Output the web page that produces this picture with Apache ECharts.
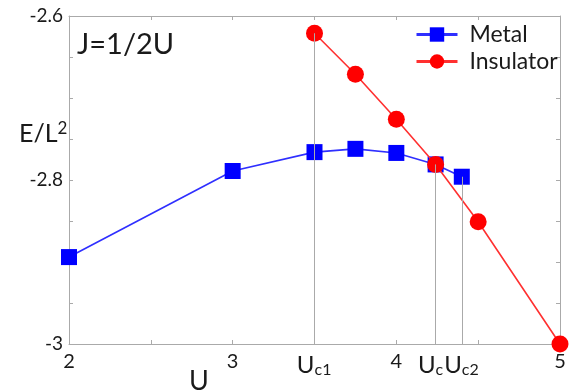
<!DOCTYPE html>
<html>
<head>
<meta charset="utf-8">
<script src="https://cdn.jsdelivr.net/npm/echarts@6/dist/echarts.min.js"></script>
<style>
  html, body { margin: 0; padding: 0; background: #fff; }
  #chart { width: 573px; height: 391px; }
  #dbg { position: absolute; left: 80px; top: 200px; font: 11px monospace; color: #080; white-space: pre; }
</style>
</head>
<body>
<div id="chart"></div>
<div id="dbg"></div>
<script>
// 数据
const metalU = [2, 3, 3.5, 3.75, 4, 4.24, 4.4]
const metalE = [-2.894, -2.789, -2.766, -2.762, -2.767, -2.781, -2.796]
const insulatorU = [3.5, 3.75, 4, 4.24, 4.5, 5]
const insulatorE = [-2.621, -2.671, -2.726, -2.781, -2.851, -3.0]

// 临界点竖线
const guideU = [3.5, 4.24, 4.4]
const guideTopE = [-2.621, -2.781, -2.796]

// 刻度标签
const xLabelValues = [2, 3, 3.5, 4, 4.24, 4.4, 5]
const xLabelTexts = ['2', '3', 'Uc1', '4', 'Uc', 'Uc2', '5']
const yLabelValues = [-3, -2.8, -2.6]

const FONT = 'Lato'
const AXIS_COLOR = '#aaaaaa'
const TEXT_COLOR = '#1a1a1a'
const U_SIZE = 24
const SUB_SIZE = 16
const NUM_SIZE = 20
const Y_SIZE = 19

const ctx = document.createElement('canvas').getContext('2d')
const textWidth = (t, size) => {
  ctx.font = size + 'px ' + FONT
  return ctx.measureText(t).width
}

const xRich = {
  n: { fontFamily: FONT, fontSize: NUM_SIZE, color: TEXT_COLOR, lineHeight: 20 },
  u: { fontFamily: FONT, fontSize: U_SIZE, color: TEXT_COLOR, lineHeight: 26 },
  s: { fontFamily: FONT, fontSize: SUB_SIZE, color: TEXT_COLOR, lineHeight: 17, verticalAlign: 'bottom' }
}

const xLabel = (value) => {
  const i = xLabelValues.findIndex(v => Math.abs(v - value) < 1e-6)
  if (i < 0) return ''
  const t = xLabelTexts[i]
  if (!t.startsWith('U')) return '{n|' + t + '}'
  const sub = t.slice(1)
  const diff = textWidth(sub, SUB_SIZE) - textWidth('U', U_SIZE)
  const padName = 'p' + i
  xRich[padName] = { width: Math.abs(diff), fontSize: 2, lineHeight: 2 }
  const pad = '{' + padName + '| }'
  return diff > 0
    ? pad + '{u|U}{s|' + sub + '}'
    : '{u|U}{s|' + sub + '}' + pad
}
xLabelValues.forEach(v => xLabel(v))

const myChart = echarts.init(document.getElementById('chart'))

const axisCommon = {
  axisLine: { show: true, lineStyle: { color: AXIS_COLOR, width: 1 } },
  axisTick: { show: true, inside: true, length: 4, lineStyle: { color: AXIS_COLOR } },
  splitLine: { show: false }
}

const option = {
  backgroundColor: '#fff',
  animation: false,
  grid: { left: 69, right: 13, top: 16, bottom: 47 },
  legend: {
    data: ['Metal', 'Insulator'],
    orient: 'vertical',
    left: 410,
    top: 18,
    itemWidth: 41,
    itemHeight: 18,
    itemGap: 4,
    lineStyle: { width: 3 },
    textStyle: { fontFamily: FONT, fontSize: 23, color: TEXT_COLOR, lineHeight: 23, padding: [0, 0, 0, 7] }
  },
  xAxis: [
    {
      type: 'value', min: 2, max: 5, interval: 0.5, position: 'bottom',
      ...axisCommon,
      axisLabel: {
        customValues: xLabelValues,
        formatter: xLabel,
        margin: 8,
        color: TEXT_COLOR,
        fontFamily: FONT,
        fontSize: NUM_SIZE,
        rich: xRich
      }
    },
    {
      type: 'value', min: 2, max: 5, interval: 0.5, position: 'top',
      ...axisCommon,
      axisLabel: { show: false }
    }
  ],
  yAxis: [
    {
      type: 'value', min: -3, max: -2.6, interval: 0.05, position: 'left',
      ...axisCommon,
      axisLabel: {
        customValues: yLabelValues,
        margin: 6,
        color: TEXT_COLOR,
        fontFamily: FONT,
        fontSize: Y_SIZE
      }
    },
    {
      type: 'value', min: -3, max: -2.6, interval: 0.05, position: 'right',
      ...axisCommon,
      axisLabel: { show: false }
    }
  ],
  graphic: [
    {
      type: 'text', left: 77, top: 30,
      style: { text: 'J=1/2U', fontFamily: FONT, fontSize: 29, fill: TEXT_COLOR }
    },
    {
      type: 'text', left: 19, top: 120,
      style: {
        text: '{a|E/L}{b|2}',
        fill: TEXT_COLOR,
        rich: {
          a: { fontFamily: FONT, fontSize: 25, lineHeight: 26, fill: TEXT_COLOR, verticalAlign: 'bottom' },
          b: { fontFamily: FONT, fontSize: 17, lineHeight: 17, fill: TEXT_COLOR, verticalAlign: 'top' }
        }
      }
    },
    {
      type: 'text', left: 189, top: 368,
      style: { text: 'U', fontFamily: FONT, fontSize: 27, fill: TEXT_COLOR }
    }
  ],
  series: [
    {
      name: 'guides',
      type: 'line',
      data: [],
      z: 1,
      silent: true,
      markLine: {
        silent: true,
        symbol: ['none', 'none'],
        label: { show: false },
        lineStyle: { color: AXIS_COLOR, width: 1, type: 'solid' },
        data: guideU.map((u, i) => [{ coord: [u, guideTopE[i]] }, { coord: [u, -3] }])
      }
    },
    {
      name: 'Metal',
      type: 'line',
      z: 3,
      clip: false,
      data: metalU.map((u, i) => [u, metalE[i]]),
      symbol: 'rect',
      symbolSize: 16,
      itemStyle: { color: '#0000ff' },
      lineStyle: { color: '#2f2fff', width: 1.6 }
    },
    {
      name: 'Insulator',
      type: 'line',
      z: 4,
      clip: false,
      data: insulatorU.map((u, i) => [u, insulatorE[i]]),
      symbol: 'circle',
      symbolSize: 17,
      itemStyle: { color: '#ff0000' },
      lineStyle: { color: '#ff3030', width: 1.6 }
    }
  ]
}

myChart.setOption(option)

// 调试: 输出标签实际字号和包围盒
const lines = []
myChart.getZr().storage.getDisplayList().forEach(el => {
  if (el.type === 'text' && el.style && el.style.text != null) {
    const t = String(el.style.text)
    if (/-2\.6|-3|n\|2|u\|U/.test(t) || t === '2' || t === '-3') {
      const r = el.getBoundingRect()
      lines.push(t.slice(0, 14) + ' fs=' + el.style.fontSize + ' font=' + el.style.font + ' w=' + r.width.toFixed(1) + ' h=' + r.height.toFixed(1) + ' sx=' + (el.scaleX || 1).toFixed(2))
    }
  }
})
document.getElementById('dbg').textContent = lines.join('\n')
</script>
</body>
</html>
